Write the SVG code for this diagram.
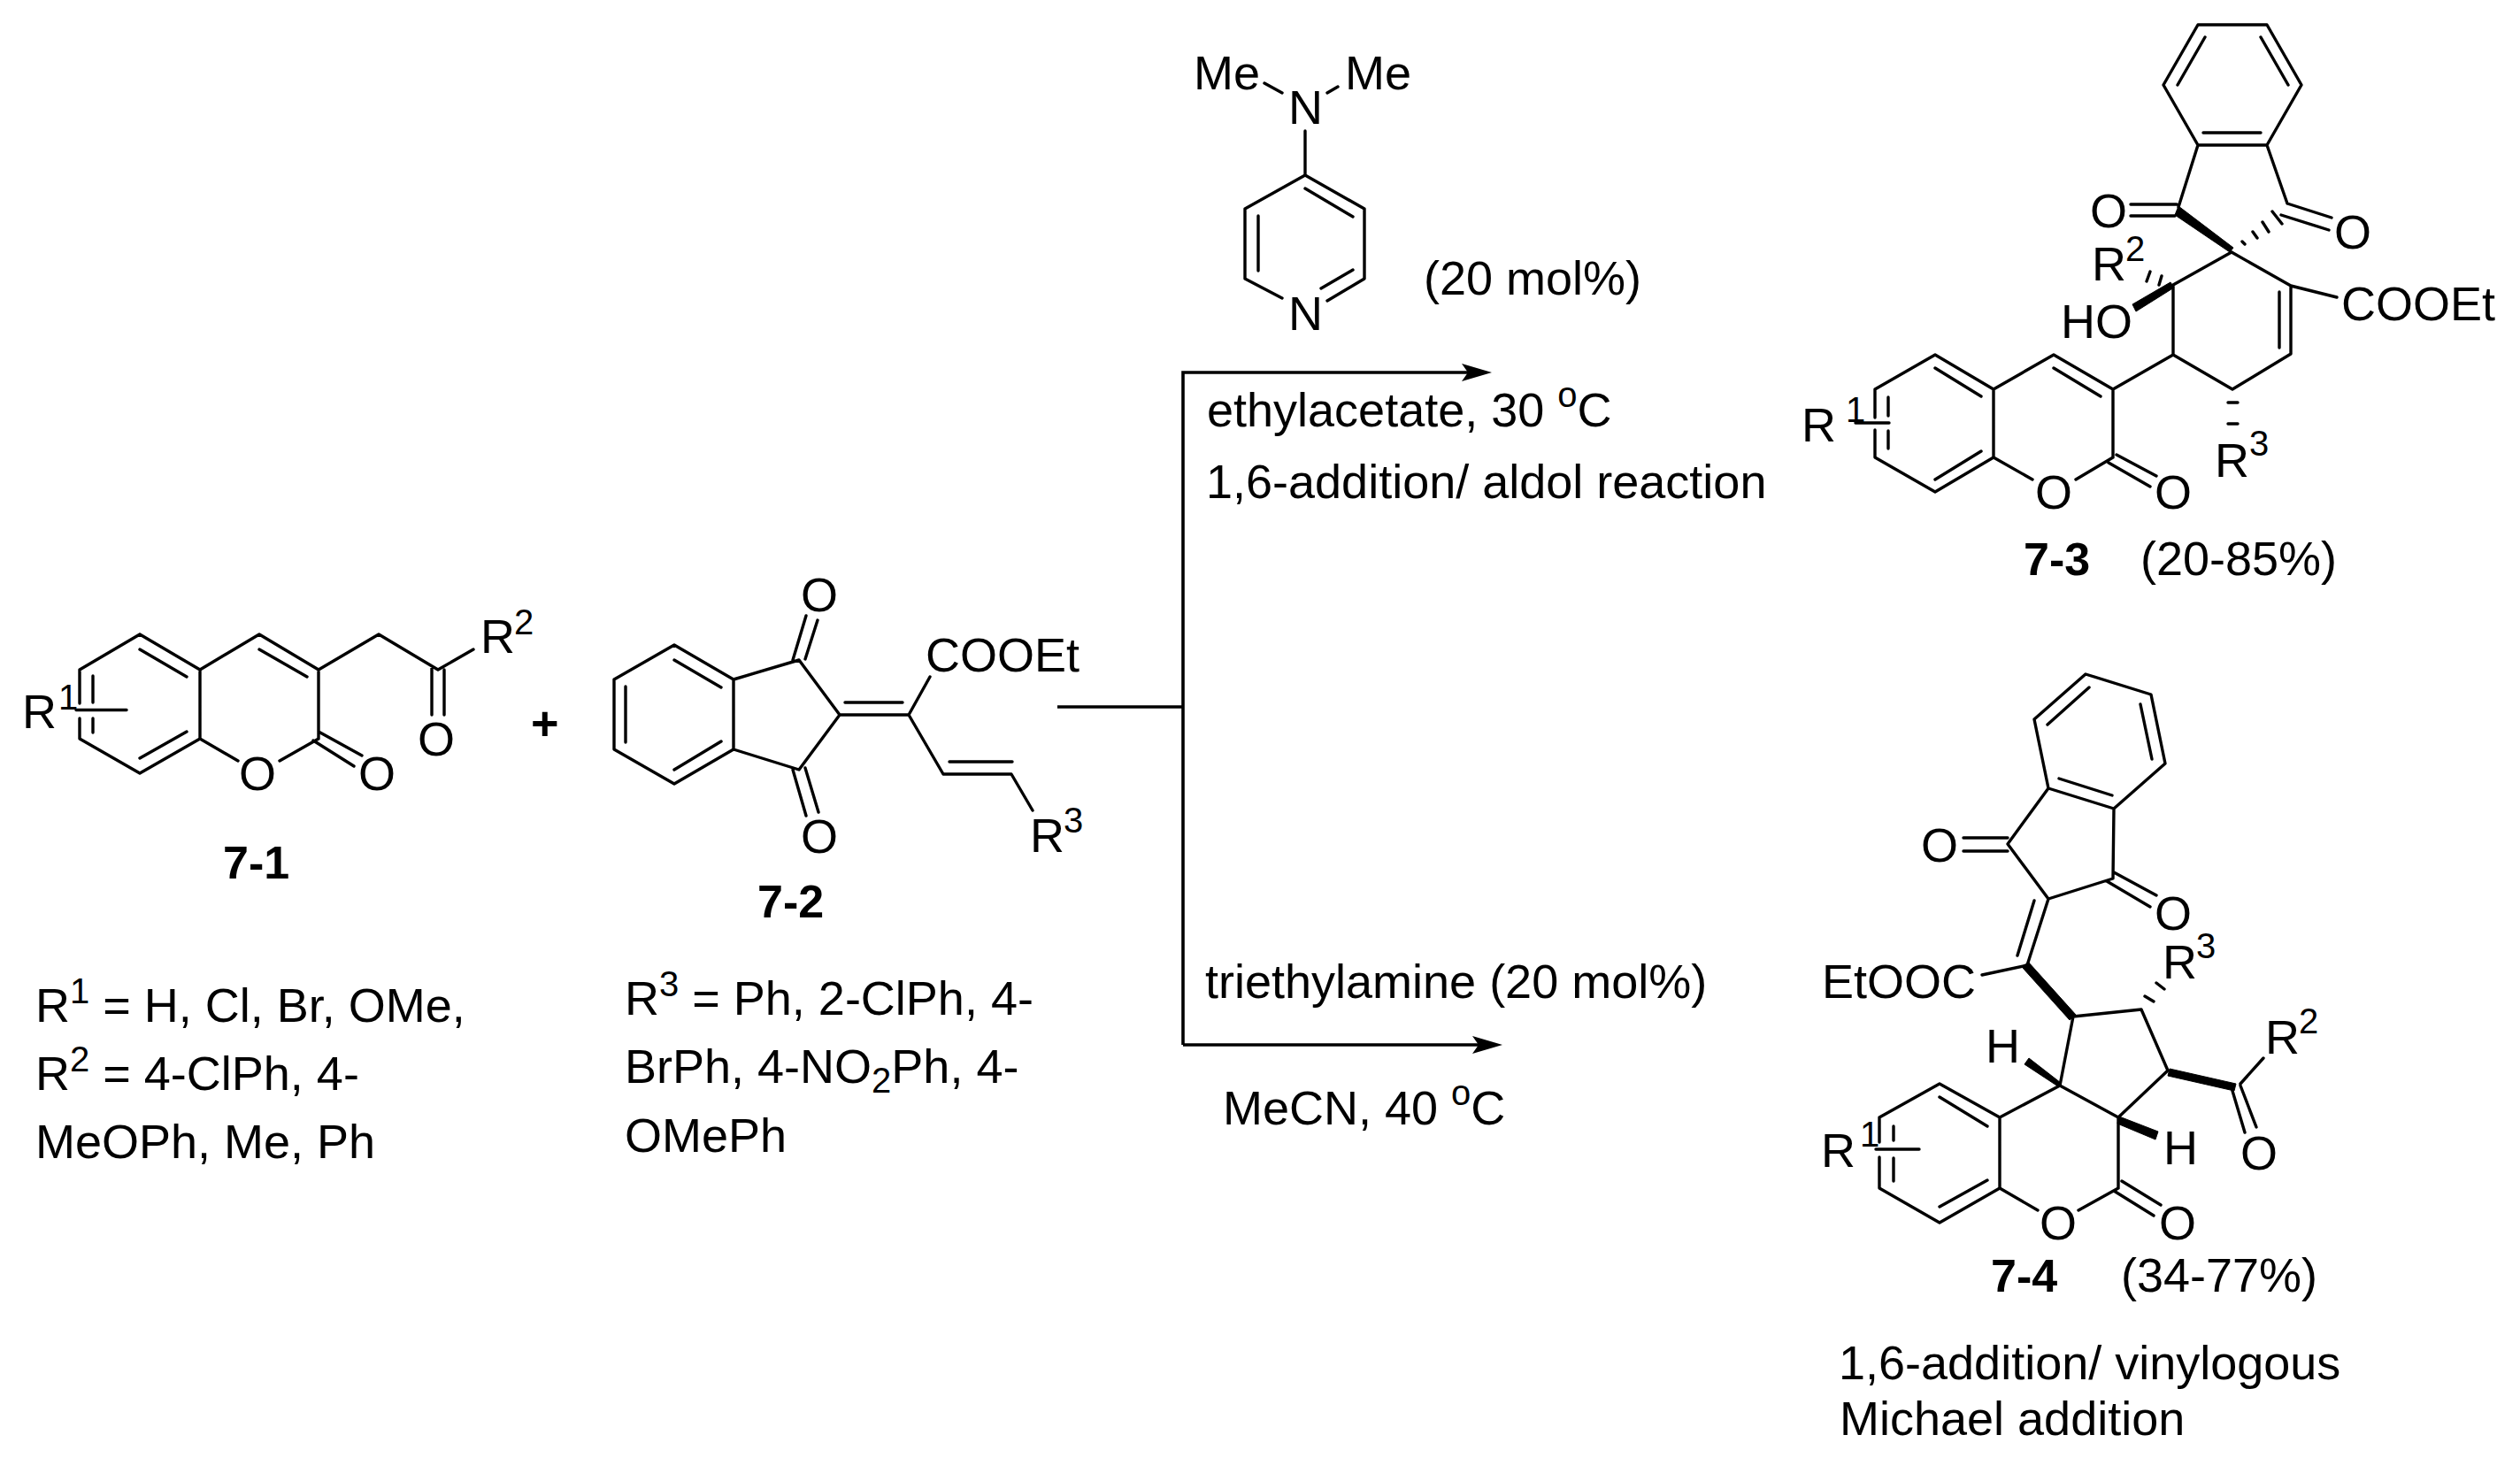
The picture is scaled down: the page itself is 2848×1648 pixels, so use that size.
<svg xmlns="http://www.w3.org/2000/svg" width="2848" height="1648" viewBox="0 0 2848 1648">
<defs>
<style>
text{font-family:"Liberation Sans",Arial,sans-serif;font-size:54px;fill:#000}
.b{font-weight:700;font-size:52px}
.s{font-size:40px}
.plus{font-weight:700}
.bond{fill:none;stroke:#000;stroke-width:3.4;stroke-linecap:round;stroke-linejoin:round}
.w{fill:#000;stroke:#000;stroke-width:1;stroke-linejoin:round}
.arrow{fill:none;stroke:#000;stroke-width:3.6;stroke-linejoin:miter}
</style>
<marker id="head" markerUnits="userSpaceOnUse" markerWidth="36" markerHeight="22" refX="24" refY="10" orient="auto">
<path d="M34,10 L0,0 L7,10 L0,20 Z" fill="#000"/>
</marker>
</defs>
<rect width="2848" height="1648" fill="#fff"/>
<g id="connectors">
<path class="arrow" d="M1195,799 H1337"/>
<path class="arrow" d="M1337,1181 V421 H1676" marker-end="url(#head)"/>
<path class="arrow" d="M1337,1181 H1688" marker-end="url(#head)"/>
</g>
<g id="compound-7-1">
<path class="bond" d="M158,717 L226,757 V835 L158,874 L90,835 V812 M90,795 V757 L158,717 M158,734 L211,765 M158,857 L211,827 M105,764 V794 M105,812 V828 M86,802.5 H143 M226,757 L293,717 L360,757 V835 M293,734 L347,765 M360,757 L428,717 L495,757 L535,734 M488,755 V808 M502,757 V808 M226,835 L269,860 M316,860 L360,835 M360,827 L409,854 M354,837 L400,866"/>
<text x="25" y="823">R</text><text class="s" x="66" y="802">1</text>
<text x="543" y="738">R</text><text class="s" x="581" y="717">2</text>
<text x="472" y="854">O</text><text x="270" y="893">O</text><text x="405" y="893">O</text>
<text class="b" x="252" y="993">7-1</text>
</g>
<g id="plus"><text class="plus" x="600" y="836">+</text></g>
<g id="compound-7-2">
<path class="bond" d="M762,729 L829,768 V847 L762,886 L694,847 V768 Z M762,746 L815,777 M707,776 V839 M762,870 L815,838 M829,768 L903,746 L949,808 L903,870 L829,847 M896,746 L911,696 M910,745 L924,701 M896,870 L911,922 M910,868 L925,918 M949,808 H1027 M955,794 H1020 M1027,808 L1051,765 M1027,808 L1066,875 H1143 L1167,916 M1073,861 H1144"/>
<text x="905" y="691">O</text><text x="905" y="964">O</text>
<text x="1046" y="759">COOEt</text>
<text x="1164" y="963">R</text><text class="s" x="1202" y="941">3</text>
<text class="b" x="856" y="1037">7-2</text>
</g>
<g id="conditions-7-1"><text x="40" y="1155">R<tspan class="s" dy="-21">1</tspan><tspan dy="21"> = H, Cl, Br, OMe,</tspan></text>
<text x="40" y="1232">R<tspan class="s" dy="-21">2</tspan><tspan dy="21"> = 4-ClPh, 4-</tspan></text>
<text x="40" y="1309">MeOPh, Me, Ph</text></g>
<g id="conditions-7-2"><text x="706" y="1147">R<tspan class="s" dy="-21">3</tspan><tspan dy="21"> = Ph, 2-ClPh, 4-</tspan></text>
<text x="706" y="1224">BrPh, 4-NO<tspan class="s" dy="11">2</tspan><tspan dy="-11">Ph, 4-</tspan></text>
<text x="706" y="1302">OMePh</text></g>
<g id="catalyst-dmap">
<path class="bond" d="M1429,94 L1449,105 M1500,105 L1512,98 M1475,148 V198 L1542,236 V315 L1500,340 M1475,198 L1407,236 V315 L1449,337 M1493,326 L1529,305 M1475,213 L1529,245 M1422,244 V306"/>
<text x="1349" y="101">Me</text><text x="1520" y="101">Me</text><text x="1456" y="140">N</text><text x="1456" y="373">N</text>
<text x="1609" y="333">(20 mol%)</text>
</g>
<g id="conditions-upper"><text x="1364" y="482">ethylacetate, 30 <tspan class="s" dy="-22">o</tspan><tspan dy="22">C</tspan></text>
<text x="1363" y="563">1,6-addition/ aldol reaction</text></g>
<g id="conditions-lower"><text x="1362" y="1128">triethylamine (20 mol%)</text>
<text x="1382" y="1271">MeCN, 40 <tspan class="s" dy="-22">o</tspan><tspan dy="22">C</tspan></text></g>
<g id="compound-7-3">
<path class="bond" d="M2484,28 H2562 L2601,96 L2562,164 H2484 L2445,96 Z M2492,42 L2461,96 M2555,42 L2586,96 M2490,150 H2555 M2484,164 L2462,234 M2562,164 L2585,230 M2408,231 H2460 M2408,244 H2458 M2585,230 L2635,246 M2578,243 L2632,260 M2522,285 L2589,323 V400 L2523,440 L2456,401 V322 L2522,285 M2576,330 V393 M2589,323 L2641,336 M2456,401 L2388,440 M2388,440 L2321,401 L2253,440 L2187,401 L2119,440 V472 M2119,486 V517 L2187,556 L2253,517 V440 M2388,440 V517 M2253,517 L2297,542 M2346,542 L2388,517 M2392,514 L2437,538 M2383,523 L2430,550 M2187,416 L2239,448 M2321,416 L2374,448 M2187,542 L2239,510 M2134,449 V470 M2134,487 V507 M2097,478 H2135 M2518,455 H2529 M2518,479 H2529 M2534,273 L2537,276 M2546,262 L2551,269 M2557,251 L2564,262 M2568,239 L2579,253 M2440,322 L2443,312 M2426,318 L2430,307"/>
<path class="w" d="M2462,233 L2458,243 L2520,285 L2524,280 Z"/>
<path class="w" d="M2453,319 L2457,325 L2414,352 L2410,344 Z"/>
<text x="2362" y="257">O</text><text x="2638" y="281">O</text>
<text x="2646" y="362">COOEt</text><text x="2329" y="382">HO</text>
<text x="2364" y="317">R</text><text class="s" x="2402" y="295">2</text>
<text x="2036" y="499">R</text><text class="s" x="2086" y="477">1</text>
<text x="2503" y="539">R</text><text class="s" x="2542" y="515">3</text>
<text x="2300" y="575">O</text><text x="2435" y="575">O</text>
<text class="b" x="2287" y="650">7-3</text><text x="2419" y="650">(20-85%)</text>
</g>
<g id="compound-7-4">
<path class="bond" d="M2357,762 L2431,785 L2447,863 L2389,914 L2315,891 L2299,813 Z M2361,777 L2314,819 M2419,796 L2432,858 M2387,899 L2327,880 M2315,891 L2269,954 L2315,1016 L2388,993 L2389,914 M2219,947 H2269 M2219,962 H2269 M2389,986 L2437,1012 M2381,996 L2430,1025 M2315,1016 L2291,1091 M2299,1018 L2280,1080 M2240,1102 L2291,1091 M2343,1149 L2420,1141 L2450,1210 L2394,1263 L2328,1227 L2343,1149 M2532,1225 L2558,1196 M2532,1227 L2550,1274 M2523,1233 L2537,1280 M2424,1126 L2434,1132 M2437,1111 L2446,1118 M2328,1227 L2260,1263 L2192,1225 L2124,1263 V1291 M2124,1308 V1343 L2192,1382 L2260,1343 V1263 M2394,1263 V1343 M2260,1343 L2303,1368 M2349,1368 L2394,1343 M2398,1335 L2442,1362 M2389,1346 L2434,1374 M2192,1240 L2246,1273 M2140,1273 V1289 M2140,1309 V1335 M2192,1364 L2246,1334 M2120,1299 H2169"/>
<path class="w" d="M2292,1087 L2346,1147 L2339,1153 L2286,1094 Z"/>
<path class="w" d="M2452,1208 L2527,1225 L2525,1233 L2450,1216 Z"/>
<path class="w" d="M2293,1196 L2288,1203 L2326,1228 L2329,1224 Z"/>
<path class="w" d="M2395,1262 L2439,1279 L2436,1288 L2393,1270 Z"/>
<text x="2171" y="974">O</text><text x="2435" y="1051">O</text>
<text x="2059" y="1128">EtOOC</text>
<text x="2444" y="1106">R</text><text class="s" x="2482" y="1083">3</text>
<text x="2560" y="1191">R</text><text class="s" x="2598" y="1168">2</text>
<text x="2532" y="1322">O</text>
<text x="2244" y="1201">H</text><text x="2445" y="1316">H</text>
<text x="2058" y="1319">R</text><text class="s" x="2102" y="1296">1</text>
<text x="2305" y="1401">O</text><text x="2440" y="1401">O</text>
<text class="b" x="2250" y="1460">7-4</text><text x="2397" y="1460">(34-77%)</text>
</g>
<g id="conditions-bottom"><text x="2078" y="1559">1,6-addition/ vinylogous</text>
<text x="2079" y="1622">Michael addition</text></g>
</svg>
